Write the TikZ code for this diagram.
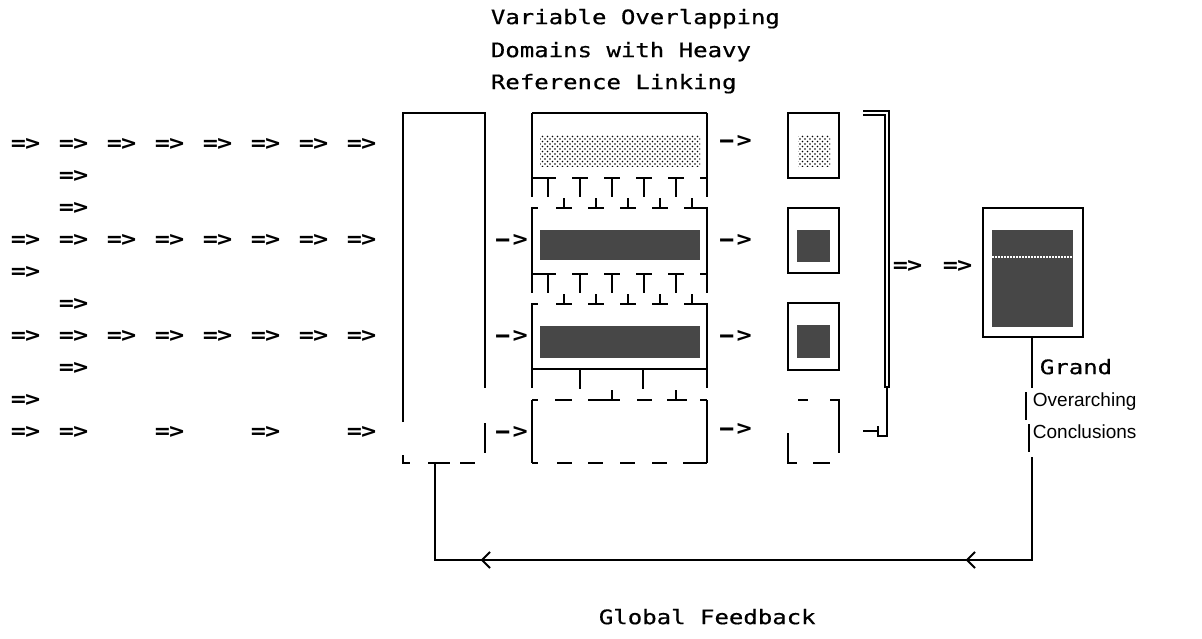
\documentclass[tikz,border=0pt]{standalone}
\usepackage{fontspec}
\usetikzlibrary{patterns}
\newfontfamily\monof{DejaVu Sans Mono}[FakeStretch=1.2]
\newfontfamily\monot{DejaVu Sans Mono}[FakeStretch=1.2,FakeBold=0.6]
\newfontfamily\sansf{Liberation Sans}
\pgfdeclarepatternformonly{bigdots}{\pgfqpoint{-1pt}{-1pt}}{\pgfqpoint{4pt}{4pt}}{\pgfqpoint{5pt}{5pt}}{%
  \pgfpathcircle{\pgfqpoint{0pt}{0pt}}{0.9pt}\pgfusepath{fill}%
  \pgfpathcircle{\pgfqpoint{2.5pt}{2.5pt}}{0.9pt}\pgfusepath{fill}}
\newcommand{\rarr}{\scalebox{1.7}[1]{-}\kern-3pt>}
\begin{document}
\begin{tikzpicture}[x=1pt,y=-1pt,line width=1.8pt,
  mono/.style={font=\monot\fontsize{20}{24}\selectfont,inner sep=0pt,anchor=mid west},
  arrw/.style={font=\monof\bfseries\fontsize{21}{24}\selectfont,inner sep=0pt,anchor=mid west},
  sans/.style={font=\sansf\fontsize{19}{22}\selectfont,inner sep=0pt,anchor=mid west},
  light/.style={pattern=bigdots,pattern color=black},
  dark/.style={fill=black!72}]
\useasboundingbox (0,0) rectangle (1202,639);
% title
\node[mono] (t1) at (490,22) {Variable Overlapping};
\node[mono] (t2) at (490,55) {Domains with Heavy};
\node[mono] (t3) at (490,87) {Reference Linking};
% input arrows
\foreach \yy/\xl in {148/{10,58,106,154,202,250,298,346},180/{58},212/{58},
  244/{10,58,106,154,202,250,298,346},276/{10},308/{58},
  340/{10,58,106,154,202,250,298,346},372/{58},404/{10},436/{10,58,154,250,346}}{
  \foreach \xx in \xl {\node[arrw] (in-\yy-\xx) at (\xx,\yy) {=\kern-1pt>};}
}
% box A
\draw (403,422) -- (403,113) -- (485,113) -- (485,388);
\draw (485,423) -- (485,453);
\draw (403,455) -- (403,463) -- (410,463);
\draw (428,463) -- (450,463);
\draw (460,463) -- (475,463);
% arrows A -> B
\foreach \yy in {244,340,436}{\node[arrw] (ab-\yy) at (489,\yy) {\rarr};}
% box B
\draw (532,113) -- (707,113);
\foreach \xx in {532,707}{
  \draw (\xx,113) -- (\xx,197);
  \draw (\xx,207) -- (\xx,293);
  \draw (\xx,303) -- (\xx,388);
}
\path[light] (540,135) rectangle (700,167);
\fill[dark] (540,230) rectangle (700,260);
\fill[dark] (540,326) rectangle (700,358);
\foreach \yo in {178,274}{
  \draw (532,\yo) -- (556,\yo);
  \draw (548,\yo) -- (548,\yo+19);
  \foreach \k in {580,612,644,676}{
    \draw (\k-8,\yo) -- (\k+8,\yo);
    \draw (\k,\yo) -- (\k,\yo+19);
  }
  \draw (700,\yo) -- (707,\yo);
  \draw (532,\yo+30) -- (538,\yo+30);
  \foreach \k in {564,596,628,660,692}{
    \draw (\k-8,\yo+30) -- (\k+8,\yo+30);
    \draw (\k,\yo+30) -- (\k,\yo+20);
  }
  \draw (700,\yo+30) -- (707,\yo+30);
}
\draw (532,369) -- (707,369);
\draw (580,369) -- (580,389);
\draw (643,369) -- (643,389);
% box C (dashed)
\draw (532,400) -- (532,463);
\draw (707,400) -- (707,463);
\draw (532,400) -- (538,400);
\draw (555,400) -- (572,400);
\draw (588,400) -- (620,400);
\draw (612,400) -- (612,390);
\draw (637,400) -- (652,400);
\draw (667,400) -- (687,400);
\draw (676,400) -- (676,390);
\draw (700,400) -- (707,400);
\draw (532,463) -- (538,463);
\foreach \k in {557,588,620,652}{\draw (\k,463) -- (\k+15,463);}
\draw (683,463) -- (707,463);
% arrows B -> D
\foreach \yy in {145,244,340,433}{\node[arrw] (bd-\yy) at (713,\yy) {\rarr};}
% small boxes D
\draw (788,113) rectangle (839,178);
\path[light] (798,135) rectangle (830,167);
\draw (788,208) rectangle (839,273);
\fill[dark] (797,230) rectangle (830,262);
\draw (788,303) rectangle (839,370);
\fill[dark] (797,325) rectangle (830,358);
\draw (798,400) -- (808,400);
\draw (830,400) -- (839,400) -- (839,453);
\draw (788,433) -- (788,463) -- (797,463);
\draw (813,463) -- (830,463);
% bracket
\draw[double,double distance=2.5pt,line width=2pt] (863,113) -- (887,113) -- (887,388);
\draw (887,386) -- (887,436) -- (878,436) -- (878,426);
\draw (863,431) -- (878,431);
% => =>
\node[arrw] (be1) at (892,270) {=\kern-1pt>};
\node[arrw] (be2) at (942,270) {=\kern-1pt>};
% box E
\draw (983,208) rectangle (1083,337);
\fill[dark] (992,230) rectangle (1073,327);
\draw[white,line width=1.5pt,dash pattern=on 1.5pt off 1.5pt] (992,257) -- (1073,257);
% conclusions line and text
\coordinate (e-bot) at (1032,337);
\draw (e-bot) -- (1032,388);
\draw (1026,392) -- (1026,420);
\draw (1029,424) -- (1029,452);
\coordinate (fb-r) at (1032,560);
\coordinate (fb-l) at (435,560);
\coordinate (a-bot) at (435,463);
\draw (1032,457) -- (fb-r) -- (fb-l) -- (a-bot);
\draw (490,552) -- (482,560) -- (490,568);
\draw (975,552) -- (967,560) -- (975,568);
\node[mono] (grand) at (1039,372) {Grand};
\node[sans] (over) at (1032,404) {Overarching};
\node[sans] (conc) at (1032,436) {Conclusions};
\node[mono] (gf) at (598,622) {Global Feedback};
\end{tikzpicture}
\end{document}
